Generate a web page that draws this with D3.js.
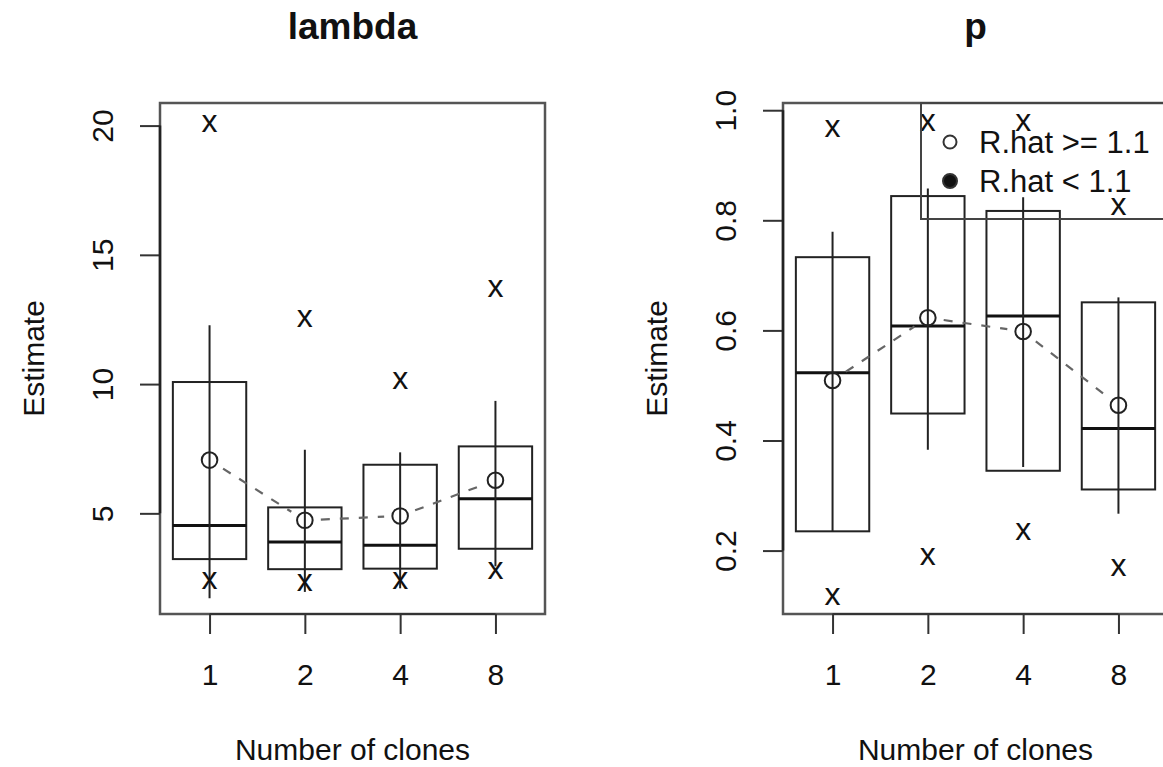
<!DOCTYPE html>
<html>
<head>
<meta charset="utf-8">
<script src="https://cdn.jsdelivr.net/npm/d3@7"></script>
<style>
  body { margin: 0; background: #fff; }
  text { font-family: "Liberation Sans", Arial, Helvetica, sans-serif; fill: #111; }
</style>
</head>
<body>
<svg id="chart" width="1163" height="767"></svg>
<script>
// Chart data
var clones = ["1", "2", "4", "8"];

var lambdaMean   = [7.06, 4.73, 4.90, 6.28];
var lambdaMedian = [4.53, 3.89, 3.77, 5.56];
var lambdaQ1     = [3.23, 2.84, 2.86, 3.63];
var lambdaQ3     = [10.08, 5.23, 6.88, 7.59];
var lambdaLo     = [1.72, 1.96, 2.10, 2.95];
var lambdaHi     = [12.28, 7.46, 7.36, 9.35];
var lambdaMin    = [2.40, 2.31, 2.40, 2.80];
var lambdaMax    = [20.08, 12.52, 10.15, 13.68];
var lambdaTicks  = [5, 10, 15, 20];

var pMean   = [0.509, 0.623, 0.598, 0.464];
var pMedian = [0.523, 0.608, 0.626, 0.422];
var pQ1     = [0.235, 0.449, 0.345, 0.311];
var pQ3     = [0.733, 0.844, 0.817, 0.651];
var pLo     = [0.235, 0.383, 0.352, 0.267];
var pHi     = [0.779, 0.858, 0.842, 0.660];
var pMin    = [0.117, 0.189, 0.234, 0.170];
var pMax    = [0.967, 0.977, 0.978, 0.825];
var pTicks  = [0.2, 0.4, 0.6, 0.8, 1.0];

var legendLabels = ["R.hat >= 1.1", "R.hat < 1.1"];

/*
 * LAYOUT
 * =============================== */
var plotTop = 103, plotBottom = 614;
var fs = 30;
var boxHalf = 0.385;
var svg = d3.select("#chart");

var panels = [
  { title: "lambda", x0: 160, x1: 545, domain: [1.106, 20.874], ticks: lambdaTicks, fmt: d3.format("d"),
    mean: lambdaMean, med: lambdaMedian, q1: lambdaQ1, q3: lambdaQ3, lo: lambdaLo, hi: lambdaHi,
    mn: lambdaMin, mx: lambdaMax },
  { title: "p", x0: 783, x1: 1168, domain: [0.0848, 1.0131], ticks: pTicks, fmt: d3.format(".1f"),
    mean: pMean, med: pMedian, q1: pQ1, q3: pQ3, lo: pLo, hi: pHi,
    mn: pMin, mx: pMax, legend: true }
];

var drawPanel = function(p) {
  var x = d3.scaleLinear().domain([0.48, 4.52]).range([p.x0, p.x1]);
  var y = d3.scaleLinear().domain(p.domain).range([plotBottom, plotTop]);
  var g = svg.append("g");
  var idx = clones.map(function(d, i) { return i; });
  var cx = function(i) { return x(i + 1); };

  // frame
  g.append("rect")
    .attr("x", p.x0).attr("y", plotTop)
    .attr("width", p.x1 - p.x0).attr("height", plotBottom - plotTop)
    .attr("fill", "none").attr("stroke", "#555").attr("stroke-width", 2.5);

  // x axis (ticks only, line from first to last tick)
  var xa = g.append("g").attr("transform", "translate(0," + plotBottom + ")")
    .call(d3.axisBottom(x).tickValues([1, 2, 3, 4]).tickSize(20).tickPadding(0)
      .tickFormat(function(d) { return clones[d - 1]; }));
  xa.select(".domain").remove();
  xa.selectAll("line").attr("stroke", "#333").attr("stroke-width", 2);
  xa.selectAll("text").attr("y", 71).attr("dy", null)
    .style("font-size", fs + "px").attr("fill", "#111");
  g.append("line")
    .attr("x1", x(1)).attr("x2", x(4)).attr("y1", plotBottom).attr("y2", plotBottom)
    .attr("stroke", "#333").attr("stroke-width", 2);

  // y axis
  var ya = g.append("g").attr("transform", "translate(" + p.x0 + ",0)")
    .call(d3.axisLeft(y).tickValues(p.ticks).tickSize(20).tickFormat(p.fmt));
  ya.select(".domain").remove();
  ya.selectAll("line").attr("stroke", "#333").attr("stroke-width", 2);
  ya.selectAll("text")
    .attr("x", null).attr("dy", null)
    .attr("transform", "translate(-47,0) rotate(-90)")
    .attr("text-anchor", "middle")
    .style("font-size", fs + "px").attr("fill", "#111");
  g.append("line")
    .attr("x1", p.x0).attr("x2", p.x0)
    .attr("y1", y(p.ticks[0])).attr("y2", y(p.ticks[p.ticks.length - 1]))
    .attr("stroke", "#222").attr("stroke-width", 2.5);

  // titles
  var mid = (p.x0 + p.x1) / 2;
  g.append("text").attr("x", mid).attr("y", 39).attr("text-anchor", "middle")
    .style("font-size", "37px").style("font-weight", "bold").text(p.title);
  g.append("text").attr("x", mid).attr("y", 760).attr("text-anchor", "middle")
    .style("font-size", fs + "px").text("Number of clones");
  g.append("text")
    .attr("transform", "translate(" + (p.x0 - 116) + "," + ((plotTop + plotBottom) / 2) + ") rotate(-90)")
    .attr("text-anchor", "middle").style("font-size", fs + "px").text("Estimate");

  // boxes
  g.selectAll("rect.box").data(idx).enter().append("rect")
    .attr("class", "box")
    .attr("x", function(i) { return x(i + 1 - boxHalf); })
    .attr("width", function(i) { return x(i + 1 + boxHalf) - x(i + 1 - boxHalf); })
    .attr("y", function(i) { return y(p.q3[i]); })
    .attr("height", function(i) { return y(p.q1[i]) - y(p.q3[i]); })
    .attr("fill", "none").attr("stroke", "#222").attr("stroke-width", 2);

  g.selectAll("line.med").data(idx).enter().append("line")
    .attr("x1", function(i) { return x(i + 1 - boxHalf); })
    .attr("x2", function(i) { return x(i + 1 + boxHalf); })
    .attr("y1", function(i) { return y(p.med[i]); })
    .attr("y2", function(i) { return y(p.med[i]); })
    .attr("stroke", "#111").attr("stroke-width", 3);

  g.selectAll("line.ci").data(idx).enter().append("line")
    .attr("x1", cx).attr("x2", cx)
    .attr("y1", function(i) { return y(p.lo[i]); })
    .attr("y2", function(i) { return y(p.hi[i]); })
    .attr("stroke", "#222").attr("stroke-width", 2);

  // dashed mean line, with gaps round the points
  var gap = 16;
  for (var i = 0; i < idx.length - 1; i++) {
    var ax = cx(i), ay = y(p.mean[i]), bx = cx(i + 1), by = y(p.mean[i + 1]);
    var len = Math.sqrt((bx - ax) * (bx - ax) + (by - ay) * (by - ay));
    var ux = (bx - ax) / len, uy = (by - ay) / len;
    g.append("line")
      .attr("x1", ax + ux * gap).attr("y1", ay + uy * gap)
      .attr("x2", bx - ux * gap).attr("y2", by - uy * gap)
      .attr("stroke", "#666").attr("stroke-width", 2.2).attr("stroke-dasharray", "9,10");
  }

  g.selectAll("circle.mean").data(idx).enter().append("circle")
    .attr("cx", cx).attr("cy", function(i) { return y(p.mean[i]); })
    .attr("r", 7.8).attr("fill", "none").attr("stroke", "#222").attr("stroke-width", 2);

  // min / max marks
  var marks = idx.map(function(i) { return [i, p.mn[i]]; })
    .concat(idx.map(function(i) { return [i, p.mx[i]]; }));
  g.selectAll("text.mark").data(marks).enter().append("text")
    .attr("x", function(d) { return cx(d[0]); })
    .attr("y", function(d) { return y(d[1]) + 8.5; })
    .attr("text-anchor", "middle").style("font-size", "32px")
    .text("x");

  // legend
  if (p.legend) {
    var lx = 921;
    g.append("rect").attr("x", lx).attr("y", plotTop).attr("width", 300).attr("height", 116)
      .attr("fill", "none").attr("stroke", "#444").attr("stroke-width", 2);
    var ly = [142, 181];
    legendLabels.forEach(function(lab, k) {
      g.append("circle").attr("cx", 950).attr("cy", ly[k]).attr("r", k ? 7 : 6.5)
        .attr("fill", k ? "#111" : "none").attr("stroke", "#333").attr("stroke-width", 2);
      g.append("text").attr("x", 979).attr("y", ly[k] + 11)
        .style("font-size", "31px").text(lab);
    });
  }
};

panels.forEach(drawPanel);
</script>
</body>
</html>
